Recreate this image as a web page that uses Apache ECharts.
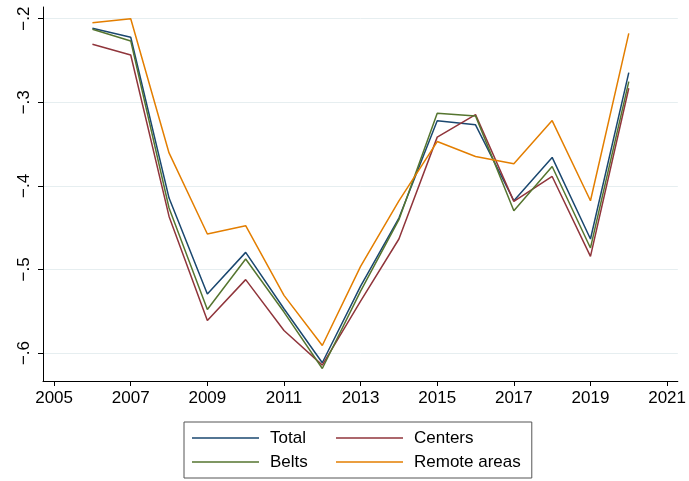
<!DOCTYPE html>
<html>
<head>
<meta charset="utf-8">
<script src="https://cdn.jsdelivr.net/npm/echarts@6/dist/echarts.min.js"></script>
<style>
html, body { margin: 0; padding: 0; background: #fff; }
#main { width: 689px; height: 481px; }
</style>
</head>
<body>
<div id="main"></div>
<script>
var years = [2006, 2007, 2008, 2009, 2010, 2011, 2012, 2013, 2014, 2015, 2016, 2017, 2018, 2019, 2020];
var total   = [-.2115, -.2222, -.4146, -.5293, -.4796, -.547, -.6117, -.520, -.4385, -.3222, -.327, -.4178, -.366, -.4636, -.2645];
var centers = [-.2306, -.2434, -.4366, -.5612, -.5122, -.573, -.6145, -.538, -.4636, -.3417, -.3147, -.4186, -.3888, -.4843, -.2832];
var belts   = [-.2127, -.2266, -.4265, -.548, -.4875, -.551, -.6185, -.526, -.4405, -.313, -.3163, -.4298, -.3768, -.4743, -.2753];
var remote  = [-.2048, -.2, -.3606, -.4576, -.4477, -.531, -.591, -.4963, -.418, -.347, -.3649, -.3736, -.3219, -.4178, -.2175];
var xTicks = [2005, 2007, 2009, 2011, 2013, 2015, 2017, 2019, 2021];
var yTicks = [-.6, -.5, -.4, -.3, -.2];

var font = "'Liberation Sans', Arial, sans-serif";

// pair years with values
function pairs(vals){
	var out = [];
	for(var i = 0; i < years.length; i++){
		out.push([years[i], vals[i]]);
	}
	return out;
}
function mkSerie(name, vals, color){
	return {
		name: name,
		type: 'line',
		data: pairs(vals),
		symbol: 'none',
		lineStyle: { color: color, width: 1.5 },
		itemStyle: { color: color },
		animation: false
	};
}

var myChart = echarts.init(document.getElementById('main'));
myChart.setOption({
	backgroundColor: '#fff',
	animation: false,
	grid: { left: 43, right: 7, top: 7, bottom: 100 },
	xAxis: {
		type: 'value',
		min: 2004.71,
		max: 2021.28,
		axisLine: { show: true, lineStyle: { color: '#000', width: 1 } },
		axisTick: { show: true, length: 5, lineStyle: { color: '#000' }, customValues: xTicks },
		axisLabel: {
			customValues: xTicks,
			color: '#000',
			fontSize: 17,
			fontFamily: font,
			margin: 9,
			formatter: function(v){ return String(v); }
		},
		splitLine: { show: false }
	},
	yAxis: {
		type: 'value',
		min: -0.6335,
		max: -0.186,
		axisLine: { show: true, lineStyle: { color: '#000', width: 1 } },
		axisTick: { show: true, length: 5, lineStyle: { color: '#000' }, customValues: yTicks },
		axisLabel: {
			customValues: yTicks,
			rotate: 90,
			color: '#000',
			fontSize: 17,
			fontFamily: font,
			margin: 10,
			formatter: function(v){
				return '\u2212' + Math.abs(v).toFixed(1).replace('0.', '.');
			}
		},
		splitLine: { show: true, lineStyle: { color: '#e6eef0', width: 1 } }
	},
	legend: [
		{
			data: ['Total', 'Belts'],
			orient: 'vertical',
			left: 184,
			top: 422,
			padding: [7, 224, 7, 8],
			borderColor: '#555',
			borderWidth: 1,
			itemWidth: 67,
			itemHeight: 1.5,
			itemGap: 6,
			icon: 'rect',
			textStyle: { color: '#000', fontSize: 17, fontFamily: font, lineHeight: 18, padding: [0, 0, 0, 6] }
		},
		{
			data: ['Centers', 'Remote areas'],
			orient: 'vertical',
			left: 336,
			top: 429,
			padding: 0,
			itemWidth: 67,
			itemHeight: 1.5,
			itemGap: 6,
			icon: 'rect',
			textStyle: { color: '#000', fontSize: 17, fontFamily: font, lineHeight: 18, padding: [0, 0, 0, 6] }
		}
	],
	series: [
		mkSerie('Total', total, '#1a476f'),
		mkSerie('Centers', centers, '#90353b'),
		mkSerie('Belts', belts, '#55752f'),
		mkSerie('Remote areas', remote, '#e37e00')
	]
});
</script>
</body>
</html>
